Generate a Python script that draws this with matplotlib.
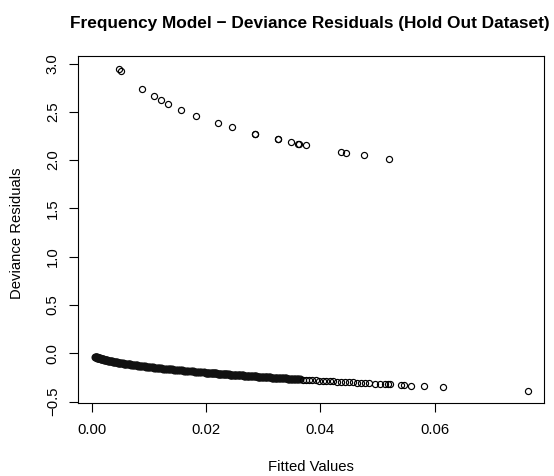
import matplotlib
matplotlib.use("Agg")
import matplotlib.pyplot as plt

plt.rcParams['font.family'] = ['Liberation Sans', 'DejaVu Sans']

# Upper cluster (observations with a claim)
upper_x = [0.00483, 0.00512, 0.00875, 0.01095, 0.01218, 0.01335, 0.01562, 0.01819,
           0.02209, 0.02449, 0.02853, 0.02860, 0.03255, 0.03262, 0.03492, 0.03615,
           0.03625, 0.03749, 0.04356, 0.04454, 0.04759, 0.05196]
upper_y = [2.943, 2.922, 2.736, 2.660, 2.619, 2.584, 2.518, 2.459,
           2.384, 2.342, 2.274, 2.272, 2.219, 2.217, 2.187, 2.167,
           2.165, 2.156, 2.087, 2.077, 2.050, 2.009]

# Lower band, dense part (overlapping circles read along the band)
dense_x = [0.000648, 0.000722,
           0.000800, 0.000882, 0.000968, 0.001058, 0.001152, 0.001250, 0.001352, 0.001458,
           0.001568, 0.001682, 0.001800, 0.001922, 0.002048, 0.002178, 0.002312, 0.002450,
           0.002592, 0.002738, 0.002888, 0.003042, 0.003200, 0.003362, 0.003528, 0.003698,
           0.003872, 0.004050, 0.004232, 0.004418, 0.004608, 0.004802, 0.005000, 0.005202,
           0.005408, 0.005618, 0.005832, 0.006050, 0.006272, 0.006498, 0.006728, 0.006962,
           0.007200, 0.007442, 0.007688, 0.007938, 0.008192, 0.008450, 0.008712, 0.008978,
           0.009248, 0.009522, 0.009800, 0.010082, 0.010368, 0.010658, 0.010952, 0.011250,
           0.011552, 0.011858, 0.012168, 0.012482, 0.012800, 0.013122, 0.013448, 0.013778,
           0.014112, 0.014450, 0.014792, 0.015138, 0.015488, 0.015842, 0.016200, 0.016562,
           0.016928, 0.017298, 0.017672, 0.018050, 0.018432, 0.018818, 0.019208, 0.019602,
           0.020000,
           0.02020, 0.02040, 0.02060, 0.02081, 0.02101, 0.02122, 0.02142, 0.02163, 0.02184,
           0.02205, 0.02226, 0.02247, 0.02268, 0.02290, 0.02311, 0.02333, 0.02354, 0.02376,
           0.02398, 0.02420, 0.02442, 0.02464, 0.02486, 0.02509, 0.02531, 0.02554, 0.02576,
           0.02599, 0.02622, 0.02645, 0.02668, 0.02691, 0.02714, 0.02738, 0.02761, 0.02785,
           0.02808, 0.02832, 0.02856, 0.02880, 0.02904, 0.02928, 0.02952, 0.02977, 0.03001,
           0.03026, 0.03050, 0.03075, 0.03100, 0.03125, 0.03150, 0.03175, 0.03200, 0.03226,
           0.03251, 0.03277, 0.03302, 0.03328, 0.03354, 0.03380, 0.03406, 0.03432, 0.03458,
           0.03485, 0.03511, 0.03538, 0.03564, 0.03591, 0.03618, 0.03645]
dense_y = [-0.036, -0.038,
           -0.040, -0.042, -0.044, -0.046, -0.048, -0.050, -0.052, -0.054,
           -0.056, -0.058, -0.060, -0.062, -0.064, -0.066, -0.068, -0.070,
           -0.072, -0.074, -0.076, -0.078, -0.080, -0.082, -0.084, -0.086,
           -0.088, -0.090, -0.092, -0.094, -0.096, -0.098, -0.100, -0.102,
           -0.104, -0.106, -0.108, -0.110, -0.112, -0.114, -0.116, -0.118,
           -0.120, -0.122, -0.124, -0.126, -0.128, -0.130, -0.132, -0.134,
           -0.136, -0.138, -0.140, -0.142, -0.144, -0.146, -0.148, -0.150,
           -0.152, -0.154, -0.156, -0.158, -0.160, -0.162, -0.164, -0.166,
           -0.168, -0.170, -0.172, -0.174, -0.176, -0.178, -0.180, -0.182,
           -0.184, -0.186, -0.188, -0.190, -0.192, -0.194, -0.196, -0.198,
           -0.200,
           -0.201, -0.202, -0.203, -0.204, -0.205, -0.206, -0.207, -0.208, -0.209,
           -0.210, -0.211, -0.212, -0.213, -0.214, -0.215, -0.216, -0.217, -0.218,
           -0.219, -0.220, -0.221, -0.222, -0.223, -0.224, -0.225, -0.226, -0.227,
           -0.228, -0.229, -0.230, -0.231, -0.232, -0.233, -0.234, -0.235, -0.236,
           -0.237, -0.238, -0.239, -0.240, -0.241, -0.242, -0.243, -0.244, -0.245,
           -0.246, -0.247, -0.248, -0.249, -0.250, -0.251, -0.252, -0.253, -0.254,
           -0.255, -0.256, -0.257, -0.258, -0.259, -0.260, -0.261, -0.262, -0.263,
           -0.264, -0.265, -0.266, -0.267, -0.268, -0.269, -0.270]

# Lower band, tail where individual circles become visible
tail_x = [0.0370, 0.0375, 0.0381, 0.0386, 0.0392, 0.0398, 0.0404, 0.0410, 0.0417, 0.0423,
          0.0430, 0.0436, 0.0443, 0.0450, 0.0457, 0.0464, 0.0471, 0.0478, 0.0486,
          0.0496, 0.0504, 0.0513, 0.0519, 0.0522, 0.0541, 0.0547, 0.0559, 0.0582, 0.0615,
          0.0764]
tail_y = [-0.2720, -0.2739, -0.2760, -0.2778, -0.2800, -0.2821, -0.2843, -0.2864, -0.2888, -0.2909,
          -0.2933, -0.2953, -0.2977, -0.3000, -0.3023, -0.3046, -0.3069, -0.3092, -0.3118,
          -0.3150, -0.3175, -0.3203, -0.3222, -0.3231, -0.3289, -0.3308, -0.3344, -0.3412, -0.3507,
          -0.3909]

x_ticks = [0.00, 0.02, 0.04, 0.06]
x_tick_labels = ["0.00", "0.02", "0.04", "0.06"]
y_ticks = [-0.5, 0.0, 0.5, 1.0, 1.5, 2.0, 2.5, 3.0]
y_tick_labels = ["\u22120.5", "0.0", "0.5", "1.0", "1.5", "2.0", "2.5", "3.0"]

title = "Frequency Model \u2212 Deviance Residuals (Hold Out Dataset)"
xlabel = "Fitted Values"
ylabel = "Deviance Residuals"

FS = 10.7
FS_TITLE = 12.4
W, H = 554, 476
fig = plt.figure(figsize=(W / 100, H / 100), dpi=100)
L, R, T, B = 78.3, 544.3, 56.0, 403.3
ax = fig.add_axes([L / W, 1 - B / H, (R - L) / W, (B - T) / H])

mk = dict(linestyle='none', marker='o', markerfacecolor='none',
          markeredgecolor='black', markersize=4.4, markeredgewidth=0.85)
ax.plot(dense_x, dense_y, linestyle='none', marker='o', markerfacecolor='none',
        markeredgecolor='#111111', markersize=3.8, markeredgewidth=2.0)
ax.plot(tail_x, tail_y, **mk)
ax.plot(upper_x, upper_y, **mk)

ax.set_xlim(-0.00234, 0.0792)
ax.set_ylim(-0.518, 3.078)

ax.set_xticks(x_ticks)
ax.set_xticklabels(x_tick_labels)
ax.set_yticks(y_ticks)
ax.set_yticklabels(y_tick_labels, rotation=90, va='center')

ax.tick_params(axis='both', direction='out', length=6.8, width=0.8,
               labelsize=FS, colors='black')
ax.tick_params(axis='x', pad=7.5)
ax.tick_params(axis='y', pad=6.5)
for s in ax.spines.values():
    s.set_linewidth(0.8)
    s.set_color('black')

fig.text(309.5 / W, 1 - 28.3 / H, title, ha='center', va='baseline',
         fontsize=FS_TITLE, fontweight='bold')
fig.text((L + R) / 2 / W, 1 - 467 / H, xlabel, ha='center', va='center', fontsize=FS)
fig.text(17 / W, 1 - 233 / H, ylabel, ha='center', va='center',
         rotation=90, fontsize=FS)

fig.savefig("out.png", dpi=100)
